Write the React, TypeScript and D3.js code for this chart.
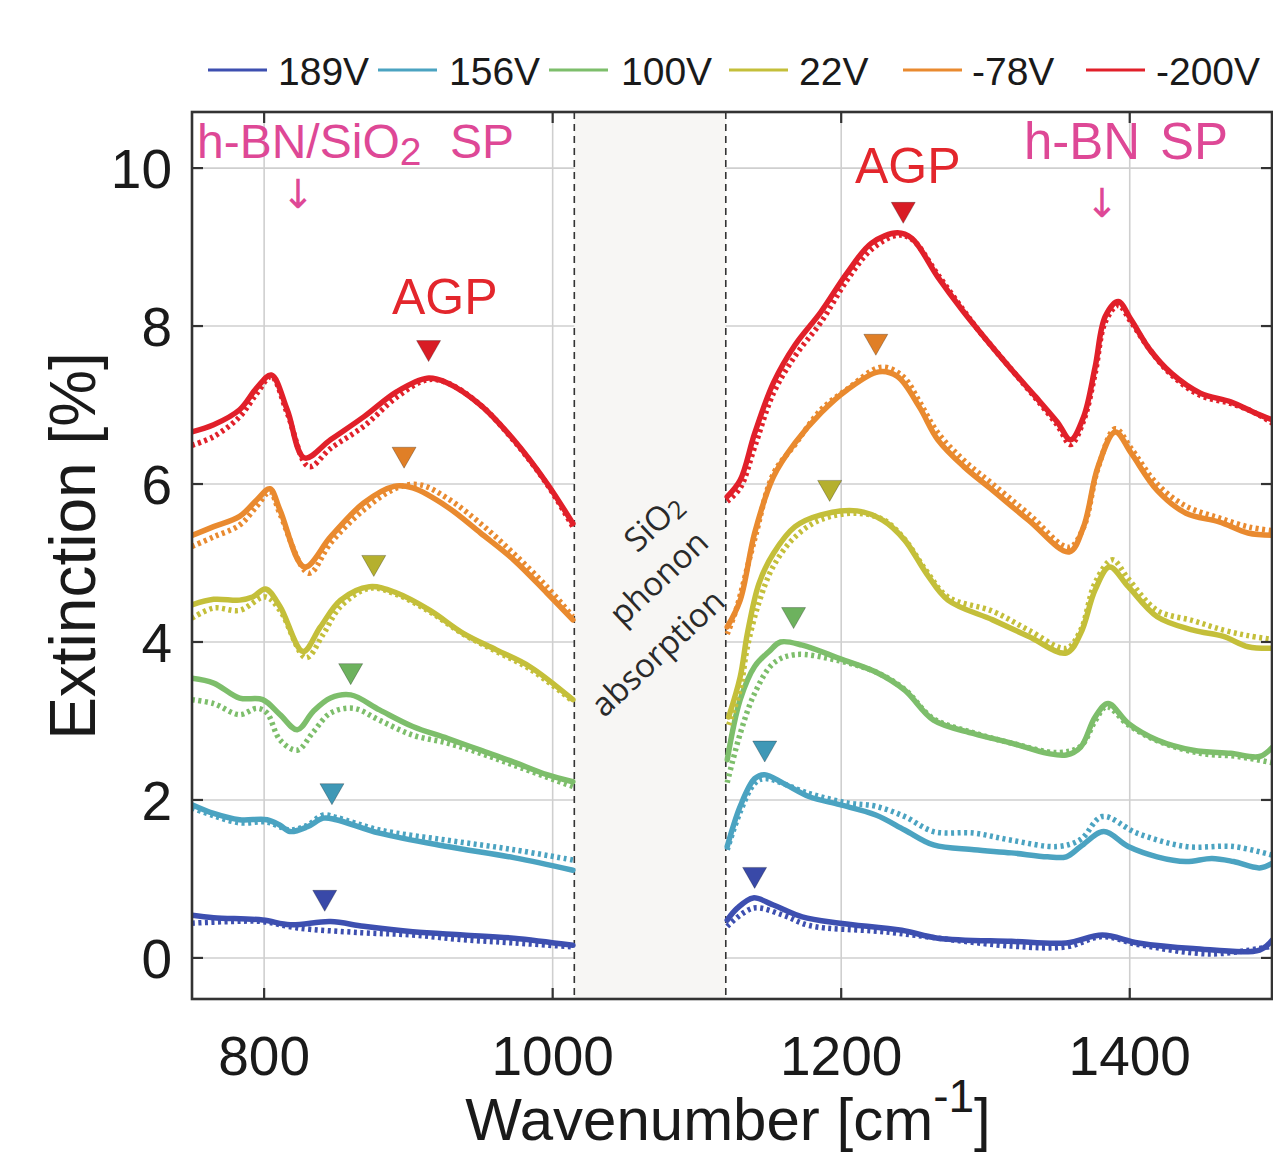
import React from "react";
import * as d3 from "d3";

// ---------- data ----------
const seriesNames = ["189V", "156V", "100V", "22V", "-78V", "-200V"];
const seriesColors = ["#3d4fb0", "#4ba3c1", "#7dbe6b", "#c4bf3a", "#e98a2f", "#e1202a"];
const markerColors = ["#3949a8", "#3f98b6", "#6db25e", "#b5b02e", "#e07f27", "#d81c25"];

const xTicks = [800, 1000, 1200, 1400];
const yTicks = [0, 2, 4, 6, 8, 10];
const bandRange = [1015, 1120];

// experiment (solid) and simulation (dotted), [wavenumber, extinction %]
const exp189 = [[750,0.54],[765,0.51],[799,0.48],[818,0.42],[846,0.46],[869,0.4],[903,0.33],[938,0.29],[973,0.25],[1014,0.16],
  [1121,0.48],[1128,0.63],[1139,0.76],[1153,0.67],[1173,0.52],[1199,0.44],[1242,0.35],[1267,0.25],[1318,0.21],[1356,0.19],[1381,0.29],[1406,0.19],[1444,0.12],[1490,0.1],[1499,0.23]];
const sim189 = [[750,0.44],[776,0.46],[799,0.46],[823,0.38],[867,0.32],[903,0.29],[938,0.23],[973,0.19],[1014,0.14],
  [1121,0.4],[1139,0.63],[1160,0.54],[1178,0.41],[1230,0.33],[1318,0.15],[1356,0.14],[1381,0.27],[1406,0.17],[1457,0.05],[1499,0.15]];

const exp156 = [[750,1.94],[765,1.83],[783,1.75],[802,1.75],[811,1.68],[818,1.6],[830,1.66],[841,1.77],[850,1.75],[880,1.58],[927,1.41],[973,1.27],[1014,1.11],
  [1121,1.41],[1130,1.92],[1140,2.27],[1147,2.32],[1160,2.21],[1178,2.04],[1199,1.94],[1224,1.81],[1244,1.62],[1264,1.43],[1292,1.37],[1318,1.33],[1343,1.28],[1356,1.28],[1366,1.41],[1382,1.6],[1399,1.41],[1419,1.28],[1439,1.22],[1457,1.26],[1472,1.22],[1490,1.14],[1499,1.2]];
const sim156 = [[750,1.9],[765,1.8],[783,1.71],[802,1.72],[811,1.66],[818,1.62],[830,1.68],[841,1.81],[850,1.78],[880,1.62],[927,1.49],[973,1.37],[1014,1.24],
  [1121,1.37],[1130,1.85],[1140,2.21],[1147,2.27],[1178,2.08],[1205,1.96],[1224,1.92],[1244,1.79],[1264,1.6],[1292,1.58],[1318,1.49],[1350,1.41],[1366,1.5],[1381,1.79],[1405,1.58],[1439,1.41],[1472,1.41],[1499,1.3]];

const exp100 = [[750,3.54],[765,3.48],[783,3.29],[799,3.27],[811,3.08],[823,2.89],[834,3.12],[846,3.29],[860,3.33],[880,3.14],[903,2.93],[927,2.78],[950,2.63],[973,2.48],[996,2.32],[1014,2.23],
  [1121,2.51],[1130,3.27],[1140,3.69],[1150,3.88],[1158,4.0],[1173,3.96],[1199,3.79],[1224,3.62],[1244,3.39],[1264,3.01],[1292,2.84],[1318,2.72],[1343,2.59],[1356,2.57],[1366,2.67],[1376,3.05],[1385,3.22],[1399,2.97],[1419,2.76],[1444,2.63],[1470,2.59],[1490,2.55],[1499,2.67]];
const sim100 = [[750,3.27],[765,3.22],[783,3.08],[795,3.16],[802,3.1],[811,2.76],[823,2.63],[834,2.86],[846,3.1],[862,3.16],[880,3.01],[903,2.82],[927,2.72],[950,2.59],[973,2.44],[1014,2.17],
  [1121,2.22],[1130,2.84],[1140,3.35],[1153,3.73],[1168,3.84],[1199,3.76],[1224,3.62],[1244,3.4],[1264,3.03],[1292,2.85],[1318,2.72],[1350,2.6],[1366,2.68],[1376,3.0],[1384,3.18],[1399,2.95],[1419,2.75],[1449,2.59],[1475,2.55],[1499,2.47]];

const exp22 = [[750,4.47],[765,4.54],[783,4.53],[792,4.57],[801,4.67],[811,4.45],[827,3.88],[839,4.19],[853,4.53],[873,4.7],[892,4.62],[915,4.4],[938,4.11],[961,3.9],[984,3.69],[1014,3.27],
  [1122,3.05],[1130,3.56],[1135,4.11],[1143,4.74],[1153,5.12],[1168,5.46],[1186,5.61],[1211,5.66],[1229,5.54],[1244,5.29],[1259,4.87],[1274,4.53],[1305,4.28],[1330,4.07],[1356,3.86],[1366,4.11],[1376,4.66],[1386,4.95],[1399,4.7],[1419,4.32],[1444,4.15],[1465,4.07],[1482,3.94],[1499,3.92]];
const sim22 = [[750,4.3],[765,4.43],[783,4.4],[801,4.57],[811,4.4],[829,3.8],[841,4.1],[853,4.45],[873,4.68],[892,4.6],[915,4.38],[938,4.1],[961,3.88],[984,3.66],[1014,3.25],
  [1122,2.95],[1130,3.4],[1135,3.94],[1143,4.5],[1153,4.96],[1168,5.33],[1186,5.55],[1211,5.63],[1229,5.55],[1244,5.3],[1259,4.9],[1274,4.57],[1305,4.39],[1330,4.15],[1356,3.92],[1366,4.15],[1376,4.75],[1388,5.04],[1399,4.8],[1419,4.4],[1444,4.27],[1465,4.15],[1482,4.08],[1499,4.03]];

const expM78 = [[750,5.35],[765,5.46],[783,5.59],[795,5.8],[804,5.94],[811,5.67],[828,4.95],[846,5.33],[869,5.76],[890,5.97],[903,5.95],[927,5.71],[950,5.38],[973,5.04],[996,4.62],[1014,4.28],
  [1121,4.19],[1130,4.53],[1140,5.38],[1153,6.09],[1168,6.52],[1186,6.9],[1204,7.19],[1226,7.42],[1239,7.36],[1254,6.98],[1267,6.56],[1285,6.22],[1305,5.92],[1330,5.54],[1358,5.14],[1368,5.46],[1378,6.22],[1390,6.66],[1401,6.39],[1419,5.92],[1439,5.63],[1462,5.52],[1482,5.38],[1499,5.35]];
const simM78 = [[750,5.21],[765,5.33],[783,5.48],[795,5.72],[804,5.9],[811,5.62],[831,4.87],[846,5.25],[869,5.67],[892,5.95],[908,5.99],[927,5.82],[950,5.5],[973,5.12],[996,4.7],[1014,4.32],
  [1121,4.1],[1127,4.4],[1140,5.3],[1153,6.13],[1168,6.5],[1186,6.94],[1204,7.2],[1228,7.48],[1243,7.36],[1254,7.05],[1267,6.65],[1285,6.3],[1305,6.0],[1330,5.62],[1358,5.2],[1368,5.45],[1378,6.2],[1390,6.7],[1401,6.45],[1419,6.0],[1439,5.72],[1462,5.57],[1484,5.45],[1499,5.41]];

const expM200 = [[750,6.66],[765,6.75],[783,6.94],[795,7.22],[805,7.38],[816,6.94],[828,6.33],[846,6.56],[869,6.85],[892,7.17],[913,7.34],[927,7.28],[950,7.0],[973,6.56],[996,6.01],[1014,5.5],
  [1121,5.84],[1130,6.05],[1140,6.64],[1153,7.28],[1168,7.76],[1186,8.18],[1204,8.67],[1221,9.05],[1239,9.18],[1249,9.11],[1267,8.62],[1284,8.2],[1295,7.95],[1318,7.45],[1335,7.1],[1350,6.78],[1359,6.56],[1368,6.85],[1376,7.48],[1383,8.12],[1392,8.31],[1401,8.08],[1414,7.7],[1429,7.4],[1449,7.15],[1470,7.04],[1487,6.9],[1499,6.81]];
const simM200 = [[750,6.49],[765,6.6],[783,6.85],[795,7.15],[805,7.36],[816,6.9],[831,6.22],[846,6.45],[869,6.73],[892,7.1],[913,7.32],[927,7.28],[950,7.0],[973,6.55],[996,6.0],[1014,5.46],
  [1121,5.78],[1130,5.95],[1140,6.47],[1153,7.15],[1168,7.62],[1186,8.05],[1204,8.58],[1221,8.97],[1239,9.15],[1249,9.1],[1267,8.65],[1284,8.22],[1295,7.95],[1318,7.45],[1335,7.08],[1350,6.74],[1359,6.5],[1368,6.8],[1376,7.4],[1383,8.05],[1392,8.26],[1401,8.05],[1414,7.7],[1429,7.38],[1449,7.12],[1470,7.02],[1487,6.9],[1499,6.77]];

const expSeries = [exp189, exp156, exp100, exp22, expM78, expM200];
const simSeries = [sim189, sim156, sim100, sim22, simM78, simM200];

// AGP peak markers (tip position)
const markerLeftX = [842, 847, 860, 876, 897, 914];
const markerLeftY = [0.59, 1.94, 3.46, 4.83, 6.2, 7.55];
const markerRightX = [1140, 1147, 1167, 1192, 1224, 1243];
const markerRightY = [0.88, 2.48, 4.17, 5.78, 7.63, 9.3];

// legend positions (pixels)
const legendLineX = [208, 378, 549, 729, 903, 1086];
const legendTextX = [278, 449, 621, 799, 972, 1156];

const W = 1273;
const H = 1152;
const FONT = "'Liberation Sans', Arial, Helvetica, sans-serif";
const PINK = "#de4896";
const RED = "#e3262c";

export default function App() {
  const x = d3.scaleLinear().domain([750, 1500]).range([192, 1274]);
  const y = d3.scaleLinear().domain([-0.52, 10.71]).range([999, 112]);
  const left = 192, right = 1272, top = 112, bottom = 999;

  const line = d3
    .line<number[]>()
    .x((d) => x(d[0]))
    .y((d) => y(d[1]))
    .curve(d3.curveCatmullRom.alpha(0.5));

  const split = (pts: number[][]) => [
    pts.filter((p) => p[0] < bandRange[0] + 10),
    pts.filter((p) => p[0] > bandRange[1] - 10),
  ];

  const tri = (mx: number, my: number) => {
    const px = x(mx), py = y(my);
    return `M${px},${py} L${px - 12},${py - 21} L${px + 12},${py - 21} Z`;
  };

  return (
    <svg
      width={W}
      height={H}
      style={{ position: "absolute", left: 0, top: 0, background: "#fff" }}
      fontFamily={FONT}
    >
      <rect x={0} y={0} width={W} height={H} fill="#fff" />
      <defs>
        <clipPath id="plotclip">
          <rect x={left} y={top} width={right - left} height={bottom - top} />
        </clipPath>
      </defs>

      {/* grid */}
      {xTicks.map((t) => (
        <line key={"gx" + t} x1={x(t)} x2={x(t)} y1={top} y2={bottom} stroke="#cfcfcf" strokeWidth={1.6} />
      ))}
      {yTicks.map((t) => (
        <line key={"gy" + t} x1={left} x2={right} y1={y(t)} y2={y(t)} stroke="#cfcfcf" strokeWidth={1.6} />
      ))}

      {/* SiO2 band */}
      <rect x={x(bandRange[0])} y={top} width={x(bandRange[1]) - x(bandRange[0])} height={bottom - top} fill="#f7f6f4" />
      {bandRange.map((b) => (
        <line key={"bd" + b} x1={x(b)} x2={x(b)} y1={top} y2={bottom} stroke="#333" strokeWidth={1.6} strokeDasharray="7 5" />
      ))}

      {/* curves */}
      <g clipPath="url(#plotclip)">
        {seriesNames.map((name, i) => (
          <g key={name}>
            {split(expSeries[i]).map((seg, k) => (
              <path key={"e" + k} d={line(seg) || ""} fill="none" stroke={seriesColors[i]} strokeWidth={5.5} strokeLinejoin="round" strokeLinecap="round" />
            ))}
            {split(simSeries[i]).map((seg, k) => (
              <path key={"s" + k} d={line(seg) || ""} fill="none" stroke={seriesColors[i]} strokeWidth={5.5} strokeDasharray="3 3.5" />
            ))}
          </g>
        ))}
      </g>

      {/* markers */}
      {seriesNames.map((name, i) => (
        <g key={"m" + name}>
          <path d={tri(markerLeftX[i], markerLeftY[i])} fill={markerColors[i]} stroke="rgba(0,0,0,0.25)" strokeWidth={1} />
          <path d={tri(markerRightX[i], markerRightY[i])} fill={markerColors[i]} stroke="rgba(0,0,0,0.25)" strokeWidth={1} />
        </g>
      ))}

      {/* frame */}
      <rect x={left} y={top} width={right - left} height={bottom - top} fill="none" stroke="#333" strokeWidth={2.6} />
      {xTicks.map((t) => (
        <g key={"tx" + t}>
          <line x1={x(t)} x2={x(t)} y1={bottom} y2={bottom - 11} stroke="#333" strokeWidth={2.2} />
          <line x1={x(t)} x2={x(t)} y1={top} y2={top + 11} stroke="#333" strokeWidth={2.2} />
          <text x={x(t)} y={1075} textAnchor="middle" fontSize={55} fill="#1a1a1a">{t}</text>
        </g>
      ))}
      {yTicks.map((t) => (
        <g key={"ty" + t}>
          <line x1={left} x2={left + 11} y1={y(t)} y2={y(t)} stroke="#333" strokeWidth={2.2} />
          <line x1={right} x2={right - 11} y1={y(t)} y2={y(t)} stroke="#333" strokeWidth={2.2} />
          <text x={172} y={y(t)} dy="0.36em" textAnchor="end" fontSize={55} fill="#1a1a1a">{t}</text>
        </g>
      ))}

      {/* axis titles */}
      <text x={728} y={1140} textAnchor="middle" fontSize={60} fill="#1a1a1a">
        <tspan>Wavenumber [cm</tspan>
        <tspan dy={-28} fontSize={46}>-1</tspan>
        <tspan dy={28}>]</tspan>
      </text>
      <text transform="translate(95,546) rotate(-90)" textAnchor="middle" fontSize={64} fill="#1a1a1a">
        Extinction [%]
      </text>

      {/* legend */}
      {seriesNames.map((name, i) => (
        <g key={"lg" + name}>
          <line x1={legendLineX[i]} x2={legendLineX[i] + 59} y1={70} y2={70} stroke={seriesColors[i]} strokeWidth={3} />
          <text x={legendTextX[i]} y={85} fontSize={39} fill="#1a1a1a">{name}</text>
        </g>
      ))}

      {/* annotations */}
      <text x={197} y={158} fontSize={48} fill={PINK}>
        h-BN/SiO<tspan fontSize={39} dy={7}>2</tspan>
        <tspan x={450} dy={-7}>SP</tspan>
      </text>
      <text x={298} y={208} textAnchor="middle" fontSize={40} fill={PINK} fontFamily="'DejaVu Sans', sans-serif">↓</text>
      <text x={1024} y={159} fontSize={51} fill={PINK}>
        h-BN<tspan x={1160}>SP</tspan>
      </text>
      <text x={1102} y={217} textAnchor="middle" fontSize={40} fill={PINK} fontFamily="'DejaVu Sans', sans-serif">↓</text>
      <text x={392} y={314} fontSize={50} fill={RED}>AGP</text>
      <text x={855} y={183} fontSize={50} fill={RED}>AGP</text>

      {/* band text */}
      <g fill="#2a2a2a" fontFamily="'Open Sans', 'DejaVu Sans', sans-serif" fontSize={33}>
        <text transform="translate(653,522) rotate(-43)" textAnchor="middle" dominantBaseline="central">
          SiO<tspan fontSize={25} dy={6}>2</tspan>
        </text>
        <text transform="translate(658,577) rotate(-43)" textAnchor="middle" dominantBaseline="central">phonon</text>
        <text transform="translate(657,652) rotate(-43)" textAnchor="middle" dominantBaseline="central">absorption</text>
      </g>
    </svg>
  );
}
